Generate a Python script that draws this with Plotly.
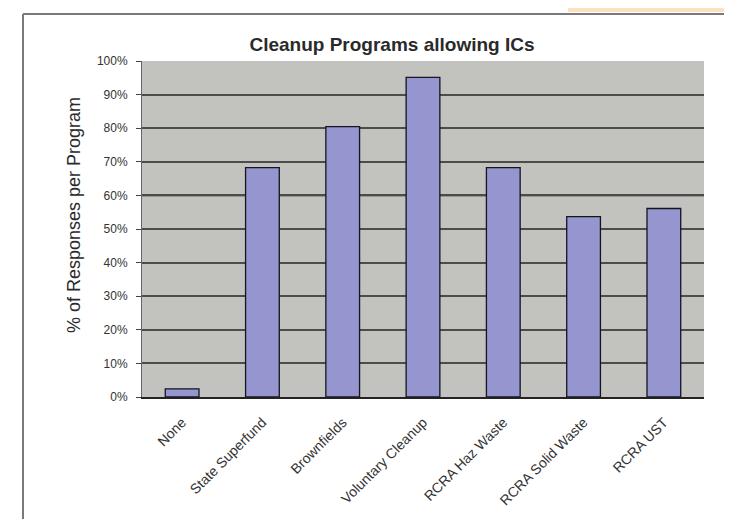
import plotly.graph_objects as go

categories = ["None", "State Superfund", "Brownfields", "Voluntary Cleanup",
              "RCRA Haz Waste", "RCRA Solid Waste", "RCRA UST"]
values = [2.44, 68.29, 80.49, 95.12, 68.29, 53.66, 56.10]
tick_vals = [0, 10, 20, 30, 40, 50, 60, 70, 80, 90, 100]
tick_text = [f"{v}%" for v in tick_vals]

W, H = 732, 519
L, R, T, B = 134, 696, 53, 389

def px_x(px):
    return (px - L) / (R - L)

def px_y(py):
    return (B - py) / (B - T)

font = "Liberation Sans, Arial, sans-serif"

fig = go.Figure()
fig.add_trace(go.Bar(
    x=categories, y=values, width=0.42,
    marker=dict(color="#9595d0", line=dict(color="#151520", width=1.3)),
    hoverinfo="x+y",
))

fig.update_layout(
    width=W, height=H,
    margin=dict(l=L, r=W - R, t=T, b=H - B, pad=0),
    paper_bgcolor="white",
    plot_bgcolor="#c2c2be",
    showlegend=False,
    title=dict(text="<b>Cleanup Programs allowing ICs</b>", x=384 / W, xanchor="center",
               y=1 - 36 / H, yanchor="middle", yref="container",
               font=dict(family=font, size=19, color="#2a2a2a")),
    font=dict(family=font, size=12, color="#2a2a2a"),
    xaxis=dict(
        tickangle=-45, showgrid=False, showline=True, linecolor="#222", linewidth=1.5,
        ticks="", ticklabelstandoff=10,
        tickfont=dict(family=font, size=14, color="#333"),
    ),
    yaxis=dict(
        range=[0, 100], tickvals=tick_vals, ticktext=tick_text,
        showgrid=True, gridcolor="#4c4c4c", gridwidth=1.5,
        showline=True, linecolor="#666", linewidth=1,
        ticks="outside", ticklen=5, tickcolor="#444",
        ticklabelstandoff=6,
        tickfont=dict(family=font, size=12, color="#333"),
        zeroline=False,
    ),
)

# darker 60% gridline as seen in the reference
fig.add_shape(type="line", xref="paper", yref="y", x0=0, x1=1, y0=60, y1=60,
              line=dict(color="#111", width=1.8), layer="below")

# y-axis title
fig.add_annotation(text="% of Responses per Program", xref="paper", yref="paper",
                   x=px_x(66), y=px_y(207), textangle=-90, showarrow=False,
                   font=dict(family=font, size=18, color="#2a2a2a"),
                   xanchor="center", yanchor="middle")

# outer frame (left and top edges, running off the picture)
fig.add_shape(type="line", xref="paper", yref="paper",
              x0=px_x(15), x1=px_x(15), y0=px_y(6), y1=px_y(530),
              line=dict(color="#7a7a7a", width=2))
fig.add_shape(type="line", xref="paper", yref="paper",
              x0=px_x(15), x1=px_x(740), y0=px_y(6), y1=px_y(6),
              line=dict(color="#7a7a7a", width=2))
# faint orange strip at top right
fig.add_shape(type="rect", xref="paper", yref="paper",
              x0=px_x(560), x1=px_x(740), y0=px_y(0), y1=px_y(4),
              line=dict(width=0), fillcolor="rgba(250,200,140,0.55)")

fig.write_html("out.html")
